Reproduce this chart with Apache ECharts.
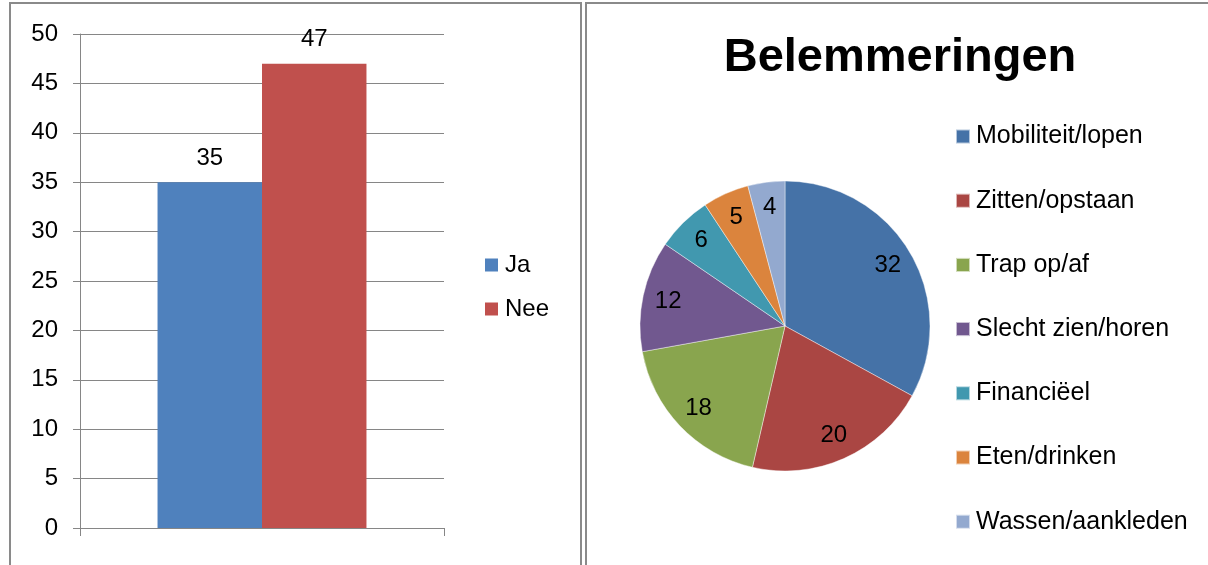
<!DOCTYPE html>
<html>
<head>
<meta charset="utf-8">
<script src="https://cdn.jsdelivr.net/npm/echarts@6/dist/echarts.min.js"></script>
<style>
html,body{margin:0;padding:0;background:#fff;}
#c{width:1208px;height:565px;}
</style>
</head>
<body>
<div id="c"></div>
<script>
// Bar chart data
const barCategories = [''];
const barSeriesNames = ['Ja', 'Nee'];
const jaValues = [35];
const neeValues = [47];
const yTicks = { min: 0, max: 50, interval: 5 };

// Pie chart data
const pieTitle = 'Belemmeringen';
const pieNames = ['Mobiliteit/lopen', 'Zitten/opstaan', 'Trap op/af', 'Slecht zien/horen', 'Financiëel', 'Eten/drinken', 'Wassen/aankleden'];
const pieValues = [32, 20, 18, 12, 6, 5, 4];

const barColors = ['#4F81BD', '#C0504D'];
const pieColors = ['#4572A7', '#AA4643', '#89A54E', '#71588F', '#4198AF', '#DB843D', '#93A9CF'];
const FONT = 'Liberation Sans, Arial, sans-serif';

const pieData = pieNames.map((n, i) => ({ name: n, value: pieValues[i], itemStyle: { color: pieColors[i] } }));
const pieLabelData = pieNames.map((n, i) => ({ name: n, value: pieValues[i] }));

const chart = echarts.init(document.getElementById('c'));
chart.setOption({
  animation: false,
  backgroundColor: '#fff',
  textStyle: { fontFamily: FONT, color: '#000' },
  graphic: [
    { type: 'rect', shape: { x: 10, y: 3, width: 571, height: 620 }, style: { fill: 'none', stroke: '#8a8a8a', lineWidth: 2 }, silent: true },
    { type: 'rect', shape: { x: 586, y: 3, width: 700, height: 620 }, style: { fill: 'none', stroke: '#8a8a8a', lineWidth: 2 }, silent: true }
  ],
  title: {
    text: pieTitle,
    left: 900, top: 35, textAlign: 'center', padding: 0,
    textStyle: { fontFamily: FONT, fontSize: 47, fontWeight: 'bold', color: '#000' }
  },
  legend: [
    {
      data: barSeriesNames,
      orient: 'vertical', left: 485, top: 253, padding: 0,
      itemWidth: 13, itemHeight: 13, itemGap: 20, icon: 'rect',
      textStyle: { fontFamily: FONT, fontSize: 24, color: '#000', padding: [0, 0, 0, 2] },
      selectedMode: false
    },
    {
      data: pieNames,
      orient: 'vertical', left: 955, top: 124, padding: 0,
      itemWidth: 14, itemHeight: 14, itemGap: 39.2, icon: 'rect',
      textStyle: { fontFamily: FONT, fontSize: 25, color: '#000', padding: [0, 0, 0, 1] },
      selectedMode: false
    }
  ],
  grid: { left: 80, top: 34, width: 364, height: 494 },
  xAxis: {
    type: 'category', data: barCategories,
    axisLine: { lineStyle: { color: '#868686', width: 1 } },
    axisTick: { show: true, length: 8, lineStyle: { color: '#868686' } },
    axisLabel: { show: false }
  },
  yAxis: {
    type: 'value', min: yTicks.min, max: yTicks.max, interval: yTicks.interval,
    axisLine: { show: true, lineStyle: { color: '#868686', width: 1 } },
    axisTick: { show: true, length: 7, lineStyle: { color: '#868686' } },
    axisLabel: { fontFamily: FONT, fontSize: 24, color: '#000', margin: 22 },
    splitLine: { lineStyle: { color: '#868686', width: 1 } }
  },
  series: [
    {
      name: barSeriesNames[0], type: 'bar', data: jaValues, barGap: 0, barCategoryGap: '42.6%',
      itemStyle: { color: barColors[0] },
      label: { show: true, position: 'top', distance: 12, fontFamily: FONT, fontSize: 24, color: '#000' }
    },
    {
      name: barSeriesNames[1], type: 'bar', data: neeValues, barGap: 0, barCategoryGap: '42.6%',
      itemStyle: { color: barColors[1] },
      label: { show: true, position: 'top', distance: 12, fontFamily: FONT, fontSize: 24, color: '#000' }
    },
    {
      type: 'pie', center: [785, 326], radius: [0, 145], startAngle: 90, clockwise: true,
      data: pieData,
      itemStyle: { borderColor: 'rgba(255,255,255,0.6)', borderWidth: 0.7 },
      label: { show: false }, labelLine: { show: false },
      emphasis: { disabled: true }
    },
    {
      type: 'pie', center: [785, 326], radius: [88, 145], startAngle: 90, clockwise: true,
      data: pieLabelData, silent: true,
      itemStyle: { color: 'rgba(0,0,0,0)' },
      label: { show: true, position: 'inside', formatter: '{c}', fontFamily: FONT, fontSize: 24, color: '#000' },
      labelLine: { show: false },
      emphasis: { disabled: true }
    }
  ]
});
</script>
</body>
</html>
